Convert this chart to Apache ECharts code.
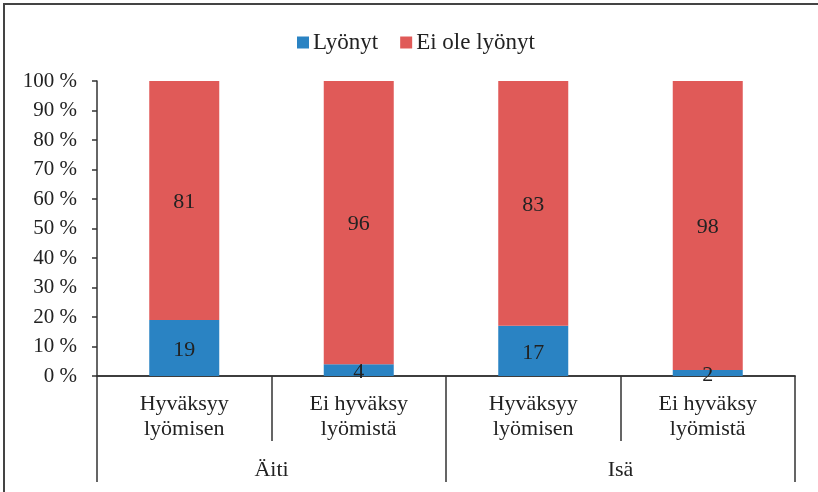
<!doctype html>
<html>
<head>
<meta charset="utf-8">
<script src="https://cdn.jsdelivr.net/npm/echarts@6/dist/echarts.min.js"></script>
<style>
  html, body { margin: 0; padding: 0; background: #fff; }
  #frame { position: absolute; left: 3px; top: 3px; width: 815px; height: 489px;
           border-left: 2px solid #444; border-top: 2px solid #444; }
  #main { position: absolute; left: 0; top: 0; width: 818px; height: 492px; }
</style>
</head>
<body>
<div id="frame"></div>
<div id="main"></div>
<script type="text/javascript">
var categories = ['Hyväksyy\nlyömisen', 'Ei hyväksy\nlyömistä', 'Hyväksyy\nlyömisen', 'Ei hyväksy\nlyömistä'];
var groups = ['Äiti', 'Isä'];
var lyonyt = [19, 4, 17, 2];
var eiOleLyonyt = [81, 96, 83, 98];
var yTicks = [0, 10, 20, 30, 40, 50, 60, 70, 80, 90, 100];

var font = 'Liberation Serif';
var fs = 21;
var myChart = echarts.init(document.getElementById('main'));

var option = {
    animation: false,
    textStyle: { fontFamily: font, fontSize: fs },
    legend: {
        data: ['Lyönyt', 'Ei ole lyönyt'],
        top: 26,
        left: 292,
        itemWidth: 12,
        itemHeight: 12,
        itemGap: 22,
        icon: 'rect',
        textStyle: { fontFamily: font, fontSize: 23, color: '#222', padding: [0, 0, 0, -1] }
    },
    grid: { left: 97, right: 23, top: 81, bottom: 116, containLabel: false },
    xAxis: [
        {
            type: 'category',
            data: categories,
            position: 'bottom',
            axisLine: { lineStyle: { color: '#333', width: 1.5 } },
            axisTick: { show: true, interval: 0, length: 65, lineStyle: { color: '#333', width: 1.5 } },
            axisLabel: { interval: 0, margin: 16, fontFamily: font, fontSize: 22, color: '#222', lineHeight: 25 }
        },
        {
            type: 'category',
            data: groups,
            position: 'bottom',
            axisLine: { lineStyle: { color: '#333', width: 1.5 } },
            axisTick: { show: true, interval: 0, length: 106, lineStyle: { color: '#333', width: 1.5 } },
            axisLabel: { interval: 0, margin: 83, fontFamily: font, fontSize: 22, color: '#222' }
        }
    ],
    yAxis: {
        type: 'value',
        min: 0,
        max: 100,
        interval: 10,
        axisLine: { show: true, lineStyle: { color: '#333', width: 1.5 } },
        axisTick: { show: true, length: 5, lineStyle: { color: '#333', width: 1.5 } },
        splitLine: { show: false },
        axisLabel: {
            margin: 20,
            fontFamily: font,
            fontSize: fs,
            color: '#222',
            formatter: function (v) { return yTicks.indexOf(v) >= 0 ? v + ' %' : ''; }
        }
    },
    series: [
        {
            name: 'Lyönyt',
            type: 'bar',
            stack: 'total',
            barWidth: 70,
            data: lyonyt,
            itemStyle: { color: '#2A83C3' },
            label: { show: true, position: 'inside', offset: [0, 2], fontFamily: font, fontSize: 22, color: '#222' }
        },
        {
            name: 'Ei ole lyönyt',
            type: 'bar',
            stack: 'total',
            barWidth: 70,
            data: eiOleLyonyt,
            itemStyle: { color: '#E05A58' },
            label: { show: true, position: 'inside', offset: [0, 2], fontFamily: font, fontSize: 22, color: '#222' }
        }
    ]
};

myChart.setOption(option);
</script>
</body>
</html>
